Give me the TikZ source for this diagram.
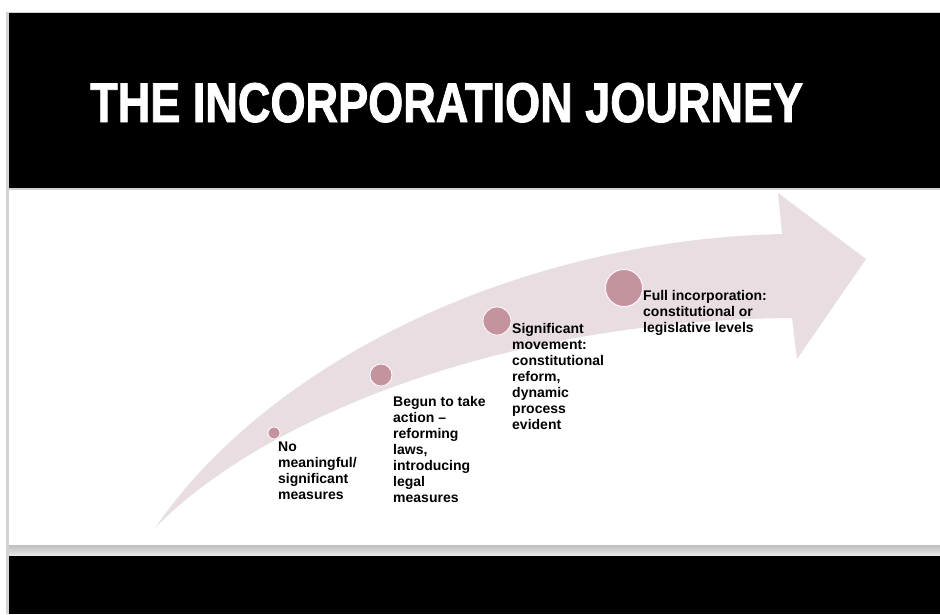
\documentclass[tikz,border=0pt]{standalone}
\usepackage{fontspec}
\setmainfont{Liberation Sans}
\newfontfamily\titlefont[FakeStretch=0.805, BoldFeatures={FakeBold=1.5}]{Liberation Sans}
\usetikzlibrary{calc}
\definecolor{arrowpink}{HTML}{E8DDE0}
\definecolor{dotpink}{HTML}{C4939D}

\begin{document}
\begin{tikzpicture}[x=1pt, y=-1pt, font=\fontsize{14}{16}\selectfont\bfseries,
    dot/.style={circle, fill=dotpink, draw=white, line width=0.8pt, inner sep=0pt},
    stage/.style={anchor=north west, align=left, inner sep=0pt}]

        \useasboundingbox (0,0) rectangle (940,614);

        % slide frame
        \fill[white] (0,0) rectangle (940,614);
        \fill[gray!35] (6,12) rectangle (940,614);
        \fill[white] (9,190) rectangle (940,545);
        \fill[black] (9,13) rectangle (940,188);
        \shade[top color=gray!50, bottom color=gray!15] (9,545) rectangle (940,556);
        \fill[black] (9,556) rectangle (940,614);

        \node[anchor=base west, inner sep=0pt, text=white,
            font=\titlefont\bfseries\fontsize{56}{60}\selectfont] (title) at (90,122) {THE INCORPORATION JOURNEY};

        % the arrow
        \coordinate (tail) at (155,528);
        \coordinate (shafttop) at (782,234);
        \coordinate (barbtop) at (778,193);
        \coordinate (tip) at (866,259);
        \coordinate (barbbot) at (797,359);
        \coordinate (shaftbot) at (792,318);

        \fill[arrowpink] (tail) .. controls (270,360) and (520,240) .. (shafttop)
            -- (barbtop) -- (tip) -- (barbbot) -- (shaftbot)
            .. controls (500,320) and (260,420) .. (tail) -- cycle;

        % dots
        \node[dot, minimum size=12pt] (d1) at (274,433) {};
        \node[dot, minimum size=22pt] (d2) at (381,375) {};
        \node[dot, minimum size=28pt] (d3) at (497,321) {};
        \node[dot, minimum size=37pt] (d4) at (624,288) {};

        % stage texts
        \node[stage] (s1) at (278,442) {No\\meaningful/\\significant\\measures};
        \node[stage] (s2) at (393,396) {Begun to take\\action --\\reforming\\laws,\\introducing\\legal\\measures};
        \node[stage] (s3) at (512,323) {Significant\\movement:\\constitutional\\reform,\\dynamic\\process\\evident};
        \node[stage] (s4) at (643,290) {Full incorporation:\\constitutional or\\legislative levels};

    \end{tikzpicture}
\end{document}
